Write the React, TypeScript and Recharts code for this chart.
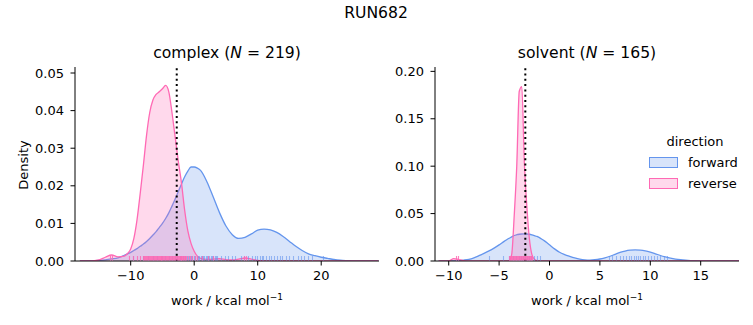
import React from 'react'
import { Area, ComposedChart, ReferenceLine, Scatter, XAxis, YAxis } from 'recharts'

// complex leg: KDE grid + densities
const complexX = [
  -18, -17, -16, -15, -14, -13, -12, -11,
  -10.5, -10, -9.5, -9, -8.5, -8, -7.5, -7, -6.5, -6, -5.5, -5, -4.5, -4, -3.5, -3,
  -2.5, -2, -1.5, -1, -0.5, 0, 0.5, 1,
  2, 3, 4, 5, 6, 7, 8, 9, 10, 11, 12, 13, 14, 15, 16, 17, 18, 19, 20, 21, 22, 23, 24, 25, 26, 27, 28, 29,
]
const complexForward = [
  0, 0.00002, 0.00005, 0.00015, 0.0003, 0.00055, 0.00085, 0.0015,
  0.0019, 0.0023, 0.0028, 0.0033, 0.0039, 0.0045, 0.0052, 0.006, 0.0069, 0.0078, 0.0089, 0.01, 0.0113, 0.0128, 0.0146, 0.0165,
  0.0185, 0.0205, 0.0224, 0.0239, 0.025, 0.025, 0.0247, 0.0241,
  0.0211, 0.017, 0.0128, 0.0093, 0.007, 0.006, 0.0063, 0.0072, 0.0082, 0.0085, 0.0083, 0.0076, 0.0065, 0.0052, 0.0039, 0.0028,
  0.0019, 0.0014, 0.001, 0.0007, 0.0004, 0.0002, 0.0001, 0.00004, 0.00001, 0, 0, 0,
]
const complexReverse = [
  0, 0, 0.00005, 0.0003, 0.001, 0.0016, 0.0011, 0.0013,
  0.002, 0.0032, 0.006, 0.011, 0.018, 0.0255, 0.0335, 0.0395, 0.0428, 0.0443, 0.045, 0.0458, 0.0467, 0.045, 0.0395, 0.033,
  0.0265, 0.0207, 0.0135, 0.008, 0.0047, 0.0026, 0.0013, 0.0007,
  0.00045, 0.0005, 0.0006, 0.00035, 0.0003, 0.0005, 0.0008, 0.0005, 0.00015, 0.00005, 0, 0, 0, 0, 0, 0,
  0, 0, 0, 0, 0, 0, 0, 0, 0, 0, 0, 0,
]
const complexForwardRug = [
  -9.6, -8.1, -7.2, -6.5, -5.8, -5.1, -4.6, -4.0, -3.5, -3.1, -2.7, -2.3, -2.0, -1.7, -1.4, -1.1,
  -0.8, -0.5, -0.3, 0.0, 0.2, 0.4, 0.6, 0.8, 1.0, 1.2, 1.4, 1.6, 1.8, 2.0, 2.2, 2.4, 2.6, 2.8,
  3.0, 3.2, 3.4, 3.6, 4.2, 4.8, 5.3, 5.9, 6.5, 7.4, 7.9, 8.4, 9.1, 9.5, 9.9, 10.3, 10.6, 10.9,
  11.3, 11.7, 12.1, 12.6, 13.0, 13.5, 13.9, 14.4, 14.9, 15.6, 16.3, 16.8, 17.3, 17.9, 18.5, 20.3,
]
const complexReverseRug = [
  -13.3, -13.0, -10.3, -9.6, -9.0, -8.5,
  -8.0, -7.85, -7.7, -7.55, -7.4, -7.25, -7.1, -6.95, -6.8, -6.65, -6.5, -6.35, -6.2, -6.05,
  -5.9, -5.75, -5.6, -5.45, -5.3, -5.15, -5.0, -4.85, -4.7, -4.55, -4.4, -4.25, -4.1, -3.95,
  -3.8, -3.65, -3.5, -3.35, -3.2, -3.05, -2.9, -2.75, -2.6, -2.45, -2.3, -2.15, -2.0, -1.85,
  -1.7, -1.55, -1.4, -1.25,
  -0.9, -0.6, -0.3, 0.1, 0.5, 1.2, 2.1, 3.0, 7.8, 8.2,
]
const complexMean = -2.75

// solvent leg
const solventX = [
  -11, -10.5, -10, -9.5, -9, -8.5, -8, -7.5, -7, -6.5, -6, -5.5, -5, -4.5,
  -4.25, -4, -3.75, -3.5, -3.25, -3, -2.75, -2.5, -2.25, -2, -1.75, -1.5, -1.25, -1, -0.75, -0.5, -0.25, 0,
  0.5, 1, 1.5, 2, 2.5, 3, 3.5, 4, 4.5, 5, 5.5, 6, 6.5, 7, 7.5, 8, 8.5, 9, 9.5, 10, 10.5, 11, 11.5, 12,
  12.5, 13, 13.5, 14, 14.5, 15, 15.5, 16, 16.5, 17, 17.5, 18, 18.5, 19,
]
const solventForward = [
  0, 0.00003, 0.00008, 0.0002, 0.0005, 0.001, 0.0018, 0.0034, 0.0056, 0.008, 0.0106, 0.0136, 0.017, 0.0207,
  0.0224, 0.024, 0.0254, 0.0269, 0.0277, 0.0282, 0.0285, 0.0286, 0.0285, 0.0282, 0.0276, 0.0268, 0.0259, 0.0246, 0.023, 0.0212, 0.0192, 0.0171,
  0.0128, 0.0092, 0.0068, 0.0049, 0.0032, 0.0019, 0.0012, 0.001, 0.0013, 0.0021, 0.0034, 0.005, 0.007, 0.009, 0.0105, 0.0114, 0.0117, 0.0114,
  0.0106, 0.0093, 0.0076, 0.0058, 0.0043, 0.003, 0.002, 0.0013, 0.0008, 0.00045, 0.00025, 0.00012, 0.00005, 0.00002, 0, 0, 0, 0, 0, 0,
]
const solventReverse = [
  0, 0, 0.0002, 0.0025, 0.0015, 0.0004, 0, 0, 0, 0, 0, 0, 0, 0,
  0, 0.0005, 0.007, 0.048, 0.1, 0.179, 0.184, 0.105, 0.058, 0.024, 0.007, 0.0018, 0.0004, 0.0001, 0, 0, 0, 0,
  0, 0, 0, 0, 0, 0, 0, 0, 0, 0, 0, 0, 0, 0, 0, 0, 0, 0, 0, 0, 0, 0, 0, 0,
  0, 0, 0, 0, 0, 0, 0, 0, 0, 0, 0, 0, 0, 0,
]
const solventForwardRug = [
  -6.0, -4.6, -4.0, -3.6, -3.3, -3.0, -2.8, -2.6, -2.4, -2.2, -2.0, -1.8, -1.5, -1.2, -0.9,
  5.9, 6.2, 6.6, 7.0, 7.3, 7.6, 7.9, 8.1, 8.4, 8.6, 8.8, 9.0, 9.3, 9.5, 9.8, 10.1, 10.4, 10.7, 11.0, 11.4, 11.7,
]
const solventReverseRug = [
  -9.3, -9.1,
  -4.0, -3.9, -3.8, -3.7, -3.6, -3.5, -3.4, -3.3, -3.2, -3.1, -3.0, -2.9, -2.8, -2.7, -2.6,
  -2.5, -2.4, -2.3, -2.2, -2.1, -2.0, -1.9, -1.8, -1.7,
]
const solventMean = -2.4

const complexXTicks = [-10, 0, 10, 20]
const complexYTicks = [0, 0.01, 0.02, 0.03, 0.04, 0.05]
const solventXTicks = [-10, -5, 0, 5, 10, 15]
const solventYTicks = [0, 0.05, 0.1, 0.15, 0.2]

const BLUE = '#6495ED'
const PINK = '#FF69B4'
const FONT = '"DejaVu Sans", Verdana, sans-serif'

const fmtX = (v: number) => (v < 0 ? `\u2212${Math.abs(v)}` : `${v}`)
const fmtY = (v: number) => v.toFixed(2)

// rug tick: short vertical stroke standing on the x axis
const rug = (color: string, alpha: number) => (props: any) => (
  <line
    x1={Math.round(props.cx) + 0.5}
    x2={Math.round(props.cx) + 0.5}
    y1={props.cy - 0.5}
    y2={props.cy - 5}
    stroke={color}
    strokeOpacity={alpha}
    strokeWidth={1.1}
  />
)

const tickStyle = { fill: '#000', fontSize: 13, fontFamily: FONT }

function KdePanel({
  left,
  width,
  yAxisWidth,
  x,
  fwd,
  rev,
  fwdRug,
  revRug,
  mean,
  xDomain,
  yDomain,
  xTicks,
  yTicks,
}: {
  left: number
  width: number
  yAxisWidth: number
  x: number[]
  fwd: number[]
  rev: number[]
  fwdRug: number[]
  revRug: number[]
  mean: number
  xDomain: [number, number]
  yDomain: [number, number]
  xTicks: number[]
  yTicks: number[]
}) {
  const data = x.map((v, i) => ({ x: v, forward: fwd[i], reverse: rev[i] }))
  return (
    <div style={{ position: 'absolute', left, top: 0 }}>
      <ComposedChart
        width={width}
        height={325}
        data={data}
        margin={{ top: 67, right: 11, bottom: 39, left: 0 }}
      >
        <XAxis
          type="number"
          dataKey="x"
          domain={xDomain}
          allowDataOverflow
          ticks={xTicks}
          interval={0}
          tickFormatter={fmtX}
          height={25}
          tickSize={4.5}
          tickMargin={5}
          stroke="#000"
          tick={tickStyle}
        />
        <YAxis
          type="number"
          domain={yDomain}
          allowDataOverflow
          ticks={yTicks}
          interval={0}
          tickFormatter={fmtY}
          width={yAxisWidth}
          tickSize={4.5}
          tickMargin={6.5}
          stroke="#000"
          tick={tickStyle}
        />
        <Area
          type="monotone"
          dataKey="forward"
          stroke={BLUE}
          strokeWidth={1.3}
          fill={BLUE}
          fillOpacity={0.25}
          dot={false}
          activeDot={false}
          isAnimationActive={false}
        />
        <Area
          type="monotone"
          dataKey="reverse"
          stroke={PINK}
          strokeWidth={1.3}
          fill={PINK}
          fillOpacity={0.25}
          dot={false}
          activeDot={false}
          isAnimationActive={false}
        />
        <Scatter
          data={fwdRug.map((v) => ({ x: v, y: 0 }))}
          dataKey="y"
          shape={rug(BLUE, 0.6)}
          isAnimationActive={false}
        />
        <Scatter
          data={revRug.map((v) => ({ x: v, y: 0 }))}
          dataKey="y"
          shape={rug(PINK, 0.85)}
          isAnimationActive={false}
        />
        <ReferenceLine x={mean} stroke="#000" strokeWidth={2} strokeDasharray="2 3.3" />
      </ComposedChart>
    </div>
  )
}

const text = (fs: number, extra: React.CSSProperties = {}): React.CSSProperties => ({
  position: 'absolute',
  fontFamily: FONT,
  fontSize: fs,
  lineHeight: 1,
  color: '#000',
  whiteSpace: 'nowrap',
  ...extra,
})

function XLabel({ cx }: { cx: number }) {
  return (
    <div style={text(13, { left: cx, top: 294, transform: 'translateX(-50%)' })}>
      work / kcal mol
      <span style={{ fontSize: 9, position: 'relative', top: -5 }}>{'\u22121'}</span>
    </div>
  )
}

function LegendRow({ top, color, label }: { top: number; color: string; label: string }) {
  return (
    <>
      <div
        style={{
          position: 'absolute',
          left: 649,
          top,
          width: 27,
          height: 9,
          border: `1.3px solid ${color}`,
          background: color === BLUE ? 'rgba(100,149,237,0.25)' : 'rgba(255,105,180,0.25)',
        }}
      />
      <div style={text(13, { left: 688, top: top - 1 })}>{label}</div>
    </>
  )
}

export default function App() {
  return (
    <div
      style={{
        position: 'fixed',
        left: 0,
        top: 0,
        width: 753,
        height: 325,
        background: '#fff',
        overflow: 'hidden',
      }}
    >
      <KdePanel
        left={0}
        width={390}
        yAxisWidth={75}
        x={complexX}
        fwd={complexForward}
        rev={complexReverse}
        fwdRug={complexForwardRug}
        revRug={complexReverseRug}
        mean={complexMean}
        xDomain={[-18.77, 29.1]}
        yDomain={[0, 0.0516]}
        xTicks={complexXTicks}
        yTicks={complexYTicks}
      />
      <KdePanel
        left={380}
        width={370}
        yAxisWidth={55}
        x={solventX}
        fwd={solventForward}
        rev={solventReverse}
        fwdRug={solventForwardRug}
        revRug={solventReverseRug}
        mean={solventMean}
        xDomain={[-11.36, 18.8]}
        yDomain={[0, 0.2046]}
        xTicks={solventXTicks}
        yTicks={solventYTicks}
      />
      <div style={text(15.6, { left: 376, top: 6, transform: 'translateX(-50%)' })}>RUN682</div>
      <div style={text(15.6, { left: 227, top: 46, transform: 'translateX(-50%)' })}>
        complex (<i>N</i> = 219)
      </div>
      <div style={text(15.6, { left: 587, top: 46, transform: 'translateX(-50%)' })}>
        solvent (<i>N</i> = 165)
      </div>
      <XLabel cx={227} />
      <XLabel cx={587} />
      <div
        style={text(13, {
          left: 22.5,
          top: 164.5,
          transform: 'translate(-50%, -50%) rotate(-90deg)',
        })}
      >
        Density
      </div>
      <div style={text(13, { left: 695, top: 135, transform: 'translateX(-50%)' })}>direction</div>
      <LegendRow top={157} color={BLUE} label="forward" />
      <LegendRow top={178} color={PINK} label="reverse" />
    </div>
  )
}
